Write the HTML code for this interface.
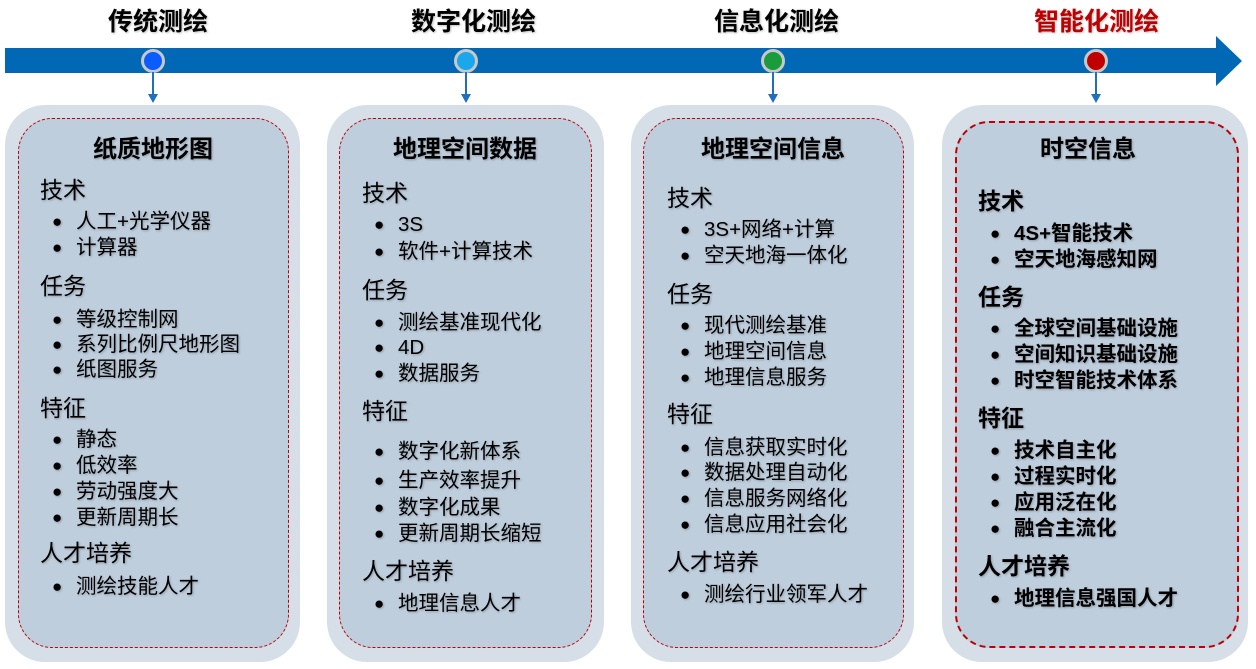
<!DOCTYPE html>
<html><head><meta charset="utf-8"><style>
body{margin:0;width:1256px;height:669px;background:#fff;position:relative;overflow:hidden;font-family:"Liberation Sans","Noto Sans CJK SC",sans-serif;}
.a{position:absolute;white-space:nowrap;line-height:24px;text-shadow:1px 1px 2px rgba(0,0,0,.25);color:#000}
.h{font-size:25px;font-weight:bold}
.t{font-size:24px;font-weight:bold;text-align:center;width:260px}
.s{font-size:23px}
.i{font-size:20.5px;padding-left:24px}
.i::before{content:"●";position:absolute;left:0;top:0;font-size:17px}
.b4 .s,.b4 .i{font-weight:bold}
.box{position:absolute;background:#d6dfe8;border-radius:40px}
.in{position:absolute;background:#bfcedd;border:1.5px dashed #c00000;border-radius:34px}
.circ{position:absolute;width:18px;height:18px;border-radius:50%;border:3px solid #c8c8c8;top:49px}
.ln{position:absolute;width:2px;background:#1f6fc0;top:72px;height:24px}
.ah{position:absolute;top:94px;width:0;height:0;border-left:5px solid transparent;border-right:5px solid transparent;border-top:9px solid #1f6fc0}
</style></head><body>
<svg style="position:absolute;left:0;top:0" width="1256" height="100">
<polygon points="5,48 1216,48 1216,36 1242,61 1216,86 1216,73 5,73" fill="#0068b5"/>
</svg>
<div class="a h" style="left:108px;top:10px">传统测绘</div>
<div class="a h" style="left:411px;top:10px">数字化测绘</div>
<div class="a h" style="left:714px;top:10px">信息化测绘</div>
<div class="a h" style="left:1034px;top:10px;color:#c00000">智能化测绘</div>
<div class="circ" style="left:141px;background:#0a5cff"></div>
<div class="circ" style="left:454px;background:#1aa7ec"></div>
<div class="circ" style="left:761px;background:#1a9c3c"></div>
<div class="circ" style="left:1084px;background:#c00000"></div>
<div class="ln" style="left:152px"></div><div class="ah" style="left:148px"></div>
<div class="ln" style="left:465px"></div><div class="ah" style="left:461px"></div>
<div class="ln" style="left:772px"></div><div class="ah" style="left:768px"></div>
<div class="ln" style="left:1095px"></div><div class="ah" style="left:1091px"></div>

<div class="box" style="left:5px;top:105px;width:295px;height:557px"></div>
<div class="in" style="left:18px;top:118px;width:269px;height:528px"></div>
<div class="box" style="left:327px;top:105px;width:277px;height:557px"></div>
<div class="in" style="left:339px;top:118px;width:251px;height:528px"></div>
<div class="box" style="left:631px;top:105px;width:283px;height:557px"></div>
<div class="in" style="left:643px;top:118px;width:259px;height:528px"></div>
<div class="box" style="left:942px;top:105px;width:306px;height:557px"></div>
<div class="in" style="left:955px;top:121px;width:280px;height:523px;border-width:2px"></div>

<div class="a t" style="left:23px;top:138px">纸质地形图</div>
<div class="a s" style="left:40px;top:178px">技术</div>
<div class="a i" style="left:52px;top:210px">人工+光学仪器</div>
<div class="a i" style="left:52px;top:236px">计算器</div>
<div class="a s" style="left:40px;top:274px">任务</div>
<div class="a i" style="left:52px;top:308px">等级控制网</div>
<div class="a i" style="left:52px;top:333px">系列比例尺地形图</div>
<div class="a i" style="left:52px;top:358px">纸图服务</div>
<div class="a s" style="left:40px;top:396px">特征</div>
<div class="a i" style="left:52px;top:428px">静态</div>
<div class="a i" style="left:52px;top:454px">低效率</div>
<div class="a i" style="left:52px;top:480px">劳动强度大</div>
<div class="a i" style="left:52px;top:506px">更新周期长</div>
<div class="a s" style="left:40px;top:541px">人才培养</div>
<div class="a i" style="left:52px;top:575px">测绘技能人才</div>

<div class="a t" style="left:335px;top:138px">地理空间数据</div>
<div class="a s" style="left:362px;top:181px">技术</div>
<div class="a i" style="left:374px;top:213px">3S</div>
<div class="a i" style="left:374px;top:240px">软件+计算技术</div>
<div class="a s" style="left:362px;top:278px">任务</div>
<div class="a i" style="left:374px;top:311px">测绘基准现代化</div>
<div class="a i" style="left:374px;top:336px">4D</div>
<div class="a i" style="left:374px;top:362px">数据服务</div>
<div class="a s" style="left:362px;top:399px">特征</div>
<div class="a i" style="left:374px;top:440px">数字化新体系</div>
<div class="a i" style="left:374px;top:469px">生产效率提升</div>
<div class="a i" style="left:374px;top:496px">数字化成果</div>
<div class="a i" style="left:374px;top:522px">更新周期长缩短</div>
<div class="a s" style="left:362px;top:559px">人才培养</div>
<div class="a i" style="left:374px;top:592px">地理信息人才</div>

<div class="a t" style="left:643px;top:138px">地理空间信息</div>
<div class="a s" style="left:667px;top:186px">技术</div>
<div class="a i" style="left:680px;top:218px">3S+网络+计算</div>
<div class="a i" style="left:680px;top:244px">空天地海一体化</div>
<div class="a s" style="left:667px;top:282px">任务</div>
<div class="a i" style="left:680px;top:314px">现代测绘基准</div>
<div class="a i" style="left:680px;top:340px">地理空间信息</div>
<div class="a i" style="left:680px;top:366px">地理信息服务</div>
<div class="a s" style="left:667px;top:402px">特征</div>
<div class="a i" style="left:680px;top:436px">信息获取实时化</div>
<div class="a i" style="left:680px;top:461px">数据处理自动化</div>
<div class="a i" style="left:680px;top:487px">信息服务网络化</div>
<div class="a i" style="left:680px;top:513px">信息应用社会化</div>
<div class="a s" style="left:667px;top:550px">人才培养</div>
<div class="a i" style="left:680px;top:583px">测绘行业领军人才</div>

<div class="b4">
<div class="a t" style="left:958px;top:138px">时空信息</div>
<div class="a s" style="left:978px;top:189px">技术</div>
<div class="a i" style="left:990px;top:222px">4S+智能技术</div>
<div class="a i" style="left:990px;top:248px">空天地海感知网</div>
<div class="a s" style="left:978px;top:285px">任务</div>
<div class="a i" style="left:990px;top:317px">全球空间基础设施</div>
<div class="a i" style="left:990px;top:343px">空间知识基础设施</div>
<div class="a i" style="left:990px;top:369px">时空智能技术体系</div>
<div class="a s" style="left:978px;top:406px">特征</div>
<div class="a i" style="left:990px;top:439px">技术自主化</div>
<div class="a i" style="left:990px;top:465px">过程实时化</div>
<div class="a i" style="left:990px;top:491px">应用泛在化</div>
<div class="a i" style="left:990px;top:517px">融合主流化</div>
<div class="a s" style="left:978px;top:554px">人才培养</div>
<div class="a i" style="left:990px;top:587px">地理信息强国人才</div>
</div>
</body></html>
